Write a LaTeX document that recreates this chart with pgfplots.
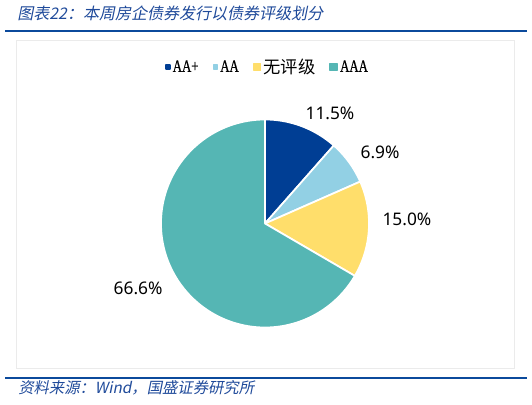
\documentclass[border=0pt]{standalone}
\usepackage{fontspec}
\usepackage{pgfplots}
\usepackage{pgfplotstable}
\pgfplotsset{compat=1.18}
\setmainfont{Noto Sans}
\newfontfamily\cjk{Noto Sans CJK SC}
\newfontfamily\cjkit[FakeSlant=0.2]{Noto Sans CJK SC}
\newfontfamily\legserif[FakeStretch=0.74,FakeBold=0.6]{Liberation Serif}
\definecolor{cAAp}{HTML}{003E94}
\definecolor{cAA}{HTML}{92D0E4}
\definecolor{cNone}{HTML}{FFDE6B}
\definecolor{cAAA}{HTML}{55B6B4}
\definecolor{titleblue}{HTML}{1F4A9A}
\definecolor{lineblue}{HTML}{0B4A9C}

\pgfplotstableread{
rating share
AA+ 11.5
AA 6.9
None 15.0
AAA 66.6
}\piedata

\begin{document}
\begin{tikzpicture}
\pgfplotstablegetelem{0}{share}\of\piedata \let\sA\pgfplotsretval
\pgfplotstablegetelem{1}{share}\of\piedata \let\sB\pgfplotsretval
\pgfplotstablegetelem{2}{share}\of\piedata \let\sC\pgfplotsretval
\pgfplotstablegetelem{3}{share}\of\piedata \let\sD\pgfplotsretval
\pgfmathsetmacro\aA{90}
\pgfmathsetmacro\aB{\aA-3.6*\sA}
\pgfmathsetmacro\aC{\aB-3.6*\sB}
\pgfmathsetmacro\aD{\aC-3.6*\sC}
\pgfmathsetmacro\aE{\aD-3.6*\sD}
% frame (1px = 0.75pt; y measured from bottom)
\draw[black!8, line width=0.6pt] (12pt,273pt) rectangle (385.5pt,27pt);
\draw[lineblue, line width=1.6pt] (3.75pt,279.75pt) -- (395.25pt,279.75pt);
\draw[lineblue, line width=1.6pt] (3.75pt,19.5pt) -- (395.25pt,19.5pt);
\node[anchor=west, inner sep=0, font=\cjkit\fontsize{12}{14}\selectfont, text=titleblue] at (12.75pt,293.25pt) {图表22：本周房企债券发行以债券评级划分};
\node[anchor=west, inner sep=0, font=\cjkit\fontsize{11.5}{13}\selectfont, text=titleblue] at (13.5pt,12pt) {资料来源：Wind，国盛证券研究所};
\begin{axis}[
  at={(198.75pt,135.375pt)}, anchor=center,
  scale only axis, width=156pt, height=156pt,
  xmin=-1, xmax=1, ymin=-1, ymax=1,
  hide axis, clip=false,
  legend columns=-1,
  legend style={at={(0.512,1.252)}, anchor=center, draw=none, fill=none,
    font=\fontsize{13}{14}\selectfont,
    /tikz/every even column/.append style={column sep=9pt},
    nodes={inner sep=1.5pt}},
]
\addplot[fill=cAAp, draw=white, line width=1.3pt, line join=round, domain=\aB:\aA, samples=40, variable=\t,
  legend image code/.code={\fill[cAAp] (0pt,-1.5pt) rectangle (3pt,1.5pt);}]
  ({cos(\t)},{sin(\t)}) -- (axis cs:0,0) -- cycle;
\addlegendentry{\legserif AA+}
\addplot[fill=cAA, draw=white, line width=1.3pt, line join=round, domain=\aC:\aB, samples=30, variable=\t,
  legend image code/.code={\fill[cAA] (0pt,-1.5pt) rectangle (3pt,1.5pt);}]
  ({cos(\t)},{sin(\t)}) -- (axis cs:0,0) -- cycle;
\addlegendentry{\legserif AA}
\addplot[fill=cNone, draw=white, line width=1.3pt, line join=round, domain=\aD:\aC, samples=60, variable=\t,
  legend image code/.code={\fill[cNone] (0pt,-2.6pt) rectangle (5.2pt,2.6pt);}]
  ({cos(\t)},{sin(\t)}) -- (axis cs:0,0) -- cycle;
\addlegendentry{\cjk 无评级}
\addplot[fill=cAAA, draw=white, line width=1.3pt, line join=round, domain=\aE:\aD, samples=180, variable=\t,
  legend image code/.code={\fill[cAAA] (0pt,-2.6pt) rectangle (5.2pt,2.6pt);}]
  ({cos(\t)},{sin(\t)}) -- (axis cs:0,0) -- cycle;
\addlegendentry{\legserif AAA}
\node[font=\fontsize{13}{15}\selectfont] at (axis cs:0.625,1.06) {11.5\%};
\node[font=\fontsize{13}{15}\selectfont] at (axis cs:1.106,0.688) {6.9\%};
\node[font=\fontsize{13}{15}\selectfont] at (axis cs:1.365,0.043) {15.0\%};
\node[font=\fontsize{13}{15}\selectfont] at (axis cs:-1.22,-0.62) {66.6\%};
\end{axis}
\pgfresetboundingbox
\path[use as bounding box] (0pt,0pt) rectangle (399pt,303pt);
\end{tikzpicture}
\end{document}
